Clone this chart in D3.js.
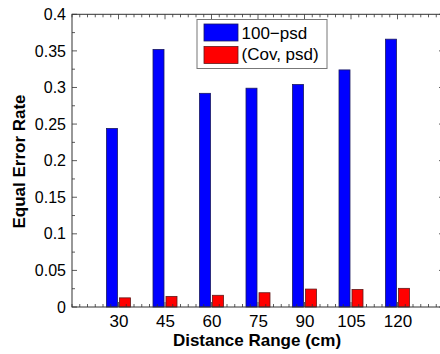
<!DOCTYPE html>
<html><head><meta charset="utf-8">
<script src="https://cdn.jsdelivr.net/npm/d3@7"></script>
<style>body{margin:0;background:#fff}svg{display:block}</style>
</head><body>
<svg id="c" width="440" height="354"></svg>
<script>
const categories = [30, 45, 60, 75, 90, 105, 120];
const psd100 = [0.244, 0.352, 0.292, 0.299, 0.304, 0.324, 0.366];
const covPsd = [0.0125, 0.0145, 0.016, 0.0195, 0.0245, 0.024, 0.0255];
const seriesNames = ["100\u2212psd", "(Cov, psd)"];
const yTicks = [0, 0.05, 0.1, 0.15, 0.2, 0.25, 0.3, 0.35, 0.4];

const svg = d3.select("#c");
const L = 72, R = 444, T = 14.3, B = 307;
const x = d3.scaleLinear().domain([15, 135]).range([L, R]);
const y = d3.scaleLinear().domain([0, 0.4]).range([B, T]);
const font = "Liberation Sans, Arial, sans-serif";
const axisCol = "#333";

// bars
const bw = 11;
svg.append("g").selectAll("rect").data(categories).join("rect")
  .attr("x", (d) => x(d) - 6.5 - bw / 2).attr("width", bw)
  .attr("y", (d, i) => y(psd100[i])).attr("height", (d, i) => y(0) - y(psd100[i]))
  .attr("fill", "#0000ff").attr("stroke", "#1a1a60").attr("stroke-width", 0.8);
svg.append("g").selectAll("rect").data(categories).join("rect")
  .attr("x", (d) => x(d) + 6.5 - bw / 2).attr("width", bw)
  .attr("y", (d, i) => y(covPsd[i])).attr("height", (d, i) => y(0) - y(covPsd[i]))
  .attr("fill", "#ff0000").attr("stroke", "#601a1a").attr("stroke-width", 0.8);

// minor ticks
const xMinor = d3.range(15, 135.01, 2.5);
const yMinor = d3.range(0, 0.4001, 0.025);
const g = svg.append("g").attr("stroke", axisCol).attr("stroke-width", 0.8);
xMinor.forEach(v => {
  const major = categories.includes(v);
  const len = major ? 5 : 3;
  g.append("line").attr("x1", x(v)).attr("x2", x(v)).attr("y1", B).attr("y2", B - len);
  g.append("line").attr("x1", x(v)).attr("x2", x(v)).attr("y1", T).attr("y2", T + len);
});
yMinor.forEach(v => {
  const major = yTicks.some(t => Math.abs(t - v) < 1e-9);
  const len = major ? 5 : 3;
  g.append("line").attr("y1", y(v)).attr("y2", y(v)).attr("x1", L).attr("x2", L + len);
  g.append("line").attr("y1", y(v)).attr("y2", y(v)).attr("x1", R).attr("x2", R - len);
});

// axes via d3
const xAxis = d3.axisBottom(x).tickValues(categories).tickSize(0).tickPadding(8).tickFormat(d3.format("d"));
const gx = svg.append("g").attr("transform", `translate(0,${B})`).call(xAxis);
gx.select(".domain").remove();
gx.selectAll("text").attr("font-family", font).attr("font-size", 17).attr("fill", "#000");

const yAxis = d3.axisLeft(y).tickValues(yTicks).tickSize(0).tickPadding(6).tickFormat(d => d === 0 ? "0" : String(+d.toFixed(3)));
const gy = svg.append("g").attr("transform", `translate(${L},0)`).call(yAxis);
gy.select(".domain").remove();
gy.selectAll("text").attr("font-family", font).attr("font-size", 16).attr("fill", "#000");

// frame
svg.append("rect").attr("x", L).attr("y", T).attr("width", R - L).attr("height", B - T)
  .attr("fill", "none").attr("stroke", axisCol).attr("stroke-width", 1);

// titles
svg.append("text").attr("x", 257).attr("y", 346).attr("text-anchor", "middle")
  .attr("font-family", font).attr("font-weight", "bold").attr("font-size", 17).text("Distance Range (cm)");
svg.append("text").attr("transform", "translate(24.5,161.5) rotate(-90)").attr("text-anchor", "middle")
  .attr("font-family", font).attr("font-weight", "bold").attr("font-size", 17).text("Equal Error Rate");

// legend
const lg = svg.append("g");
lg.append("rect").attr("x", 197).attr("y", 19.5).attr("width", 130).attr("height", 49)
  .attr("fill", "#fff").attr("stroke", "#777").attr("stroke-width", 1);
const colors = ["#0000ff", "#ff0000"];
const edges = ["#1a1a60", "#601a1a"];
seriesNames.forEach((n, i) => {
  lg.append("rect").attr("x", 204).attr("y", 24 + i * 22.5).attr("width", 34).attr("height", 17)
    .attr("fill", colors[i]).attr("stroke", edges[i]).attr("stroke-width", 0.8);
  lg.append("text").attr("x", 241.5).attr("y", 39 + i * 21).attr("font-family", font)
    .attr("font-size", 17).attr("fill", "#000").text(n);
});
</script>
</body></html>
